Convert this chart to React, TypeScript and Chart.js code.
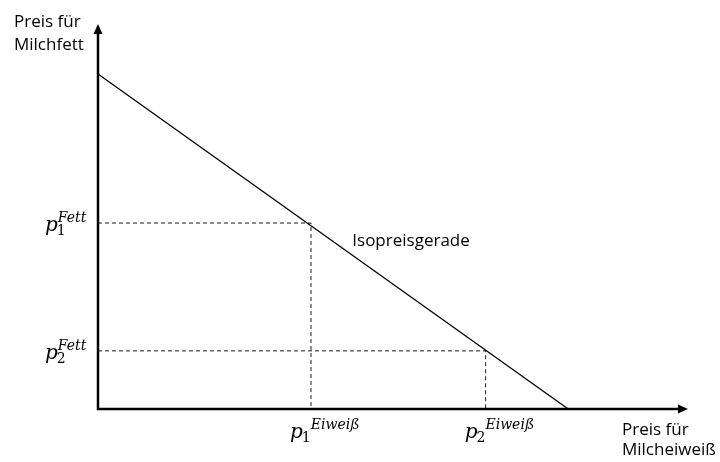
import React, { useEffect, useRef } from "react";
import { Chart, registerables } from "chart.js";

Chart.register(...registerables);

// ---- data (abstract units: both axes run 0..100) ----
const isoLineX = [0, 79.7];
const isoLineY = [87, 0];
const fettPrices = [48.3, 15.1]; // p1^Fett, p2^Fett
const eiweissPrices = [36.1, 65.7]; // p1^Eiweiß, p2^Eiweiß
const priceIndices = ["1", "2"];
const yAxisTitle = ["Preis für", "Milchfett"];
const xAxisTitle = ["Preis für", "Milcheiweiß"];
const lineLabel = "Isopreisgerade";

const TEXT_FONT = '17px "Open Sans"';
const MATH_P = 'italic 20px "DejaVu Serif"';
const MATH_SUB = '14px "DejaVu Serif"';
const MATH_SUP = 'italic 14px "DejaVu Serif"';

const overlay = {
  id: "overlay",
  afterDatasetsDraw(chart: any) {
    const { ctx, scales } = chart;
    const xs = scales.x;
    const ys = scales.y;
    const x0 = xs.getPixelForValue(0);
    const y0 = ys.getPixelForValue(0);
    const xEnd = xs.getPixelForValue(100);
    const yEnd = ys.getPixelForValue(100);
    ctx.save();
    // axes
    ctx.strokeStyle = "#000";
    ctx.fillStyle = "#000";
    ctx.lineWidth = 2.5;
    ctx.beginPath();
    ctx.moveTo(x0, y0 + 1);
    ctx.lineTo(x0, yEnd + 6);
    ctx.moveTo(x0 - 1, y0);
    ctx.lineTo(xEnd - 6, y0);
    ctx.stroke();
    // arrowheads
    ctx.beginPath();
    ctx.moveTo(x0, yEnd);
    ctx.lineTo(x0 - 4.5, yEnd + 10);
    ctx.lineTo(x0 + 4.5, yEnd + 10);
    ctx.closePath();
    ctx.fill();
    ctx.beginPath();
    ctx.moveTo(xEnd, y0);
    ctx.lineTo(xEnd - 10, y0 - 4.5);
    ctx.lineTo(xEnd - 10, y0 + 4.5);
    ctx.closePath();
    ctx.fill();

    // plain text labels
    ctx.font = TEXT_FONT;
    ctx.textBaseline = "alphabetic";
    ctx.textAlign = "left";
    ctx.fillText(yAxisTitle[0], 14, 27);
    ctx.fillText(yAxisTitle[1], 14, 50);
    ctx.fillText(xAxisTitle[0], xEnd - 66, y0 + 26);
    ctx.fillText(xAxisTitle[1], xEnd - 66, y0 + 46);
    ctx.fillText(lineLabel, xs.getPixelForValue(43.1), ys.getPixelForValue(42.3));

    // math labels
    const drawMath = (left: number, base: number, sub: string, sup: string, supOffset: number) => {
      ctx.font = MATH_P;
      ctx.fillText("p", left, base);
      const pw = ctx.measureText("p").width;
      ctx.font = MATH_SUB;
      ctx.fillText(sub, left + pw - 1, base + 4);
      ctx.font = MATH_SUP;
      ctx.fillText(sup, left + pw + supOffset, base - 9);
    };
    fettPrices.forEach((v, i) => {
      const py = ys.getPixelForValue(v);
      drawMath(45, py + 8, priceIndices[i], "Fett", 0);
    });
    eiweissPrices.forEach((v, i) => {
      const px = xs.getPixelForValue(v);
      drawMath(px - 21, y0 + 29, priceIndices[i], "Eiweiß", 8);
    });
    ctx.restore();
  },
};

export default function App() {
  const ref = useRef<HTMLCanvasElement | null>(null);
  useEffect(() => {
    if (!ref.current) return;
    const dashStyle = {
      borderColor: "#1a1a1a",
      borderWidth: 1,
      borderDash: [4, 3],
      pointRadius: 0,
      showLine: true,
      fill: false,
      clip: false as any,
    };
    const chart = new Chart(ref.current, {
      type: "scatter",
      data: {
        datasets: [
          {
            label: lineLabel,
            data: isoLineX.map((x, i) => ({ x, y: isoLineY[i] })),
            borderColor: "#000",
            borderWidth: 1.3,
            pointRadius: 0,
            showLine: true,
            clip: false as any,
          },
          ...fettPrices.map((f, i) => ({
            label: "p" + priceIndices[i],
            data: [
              { x: 0, y: f },
              { x: eiweissPrices[i], y: f },
              { x: eiweissPrices[i], y: 0 },
            ],
            ...dashStyle,
          })),
        ],
      },
      options: {
        animation: false,
        responsive: false,
        devicePixelRatio: 1,
        layout: { padding: { left: 98, right: 32, top: 24, bottom: 53 } },
        scales: {
          x: { type: "linear", min: 0, max: 100, display: false },
          y: { type: "linear", min: 0, max: 100, display: false },
        },
        plugins: { legend: { display: false }, tooltip: { enabled: false } },
        events: [],
      },
      plugins: [overlay],
    });
    return () => chart.destroy();
  }, []);
  return (
    <div style={{ position: "fixed", left: 0, top: 0, width: 720, height: 462, background: "#fff" }}>
      <canvas ref={ref} width={720} height={462} />
    </div>
  );
}
